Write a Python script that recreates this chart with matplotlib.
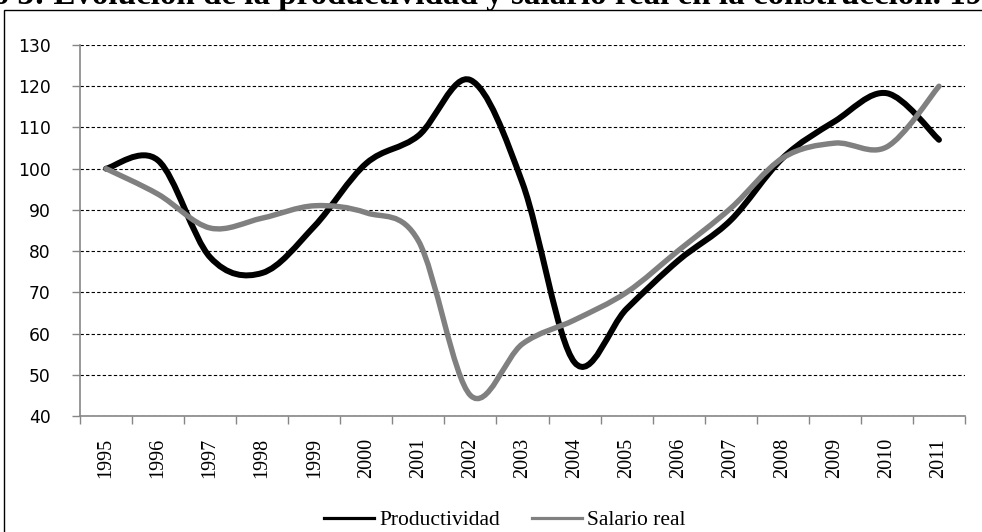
import numpy as np
import matplotlib
matplotlib.use('Agg')
import matplotlib.pyplot as plt
from matplotlib.path import Path
from matplotlib.patches import PathPatch, Rectangle
from matplotlib.lines import Line2D

years = ['1995', '1996', '1997', '1998', '1999', '2000', '2001', '2002', '2003',
         '2004', '2005', '2006', '2007', '2008', '2009', '2010', '2011']
productividad = [100, 102, 78.5, 74.7, 86, 101.3, 108, 121.5, 96.5,
                 53, 66, 77.8, 87.5, 102.6, 111.5, 118.3, 107]
salario_real = [100, 93.8, 85.6, 88, 91, 89.3, 82.5, 45, 57.5,
                63.3, 70, 80.2, 90.4, 102.6, 106.2, 105.3, 120]
title = 'Gráfico 3: Evolución de la productividad y salario real en la construcción. 1995-2011'

W, H = 982, 532


def smooth_path(vals):
    # excel-like smoothed line: catmull-rom as cubic bezier
    x = np.arange(len(vals), dtype=float)
    y = np.asarray(vals, dtype=float)
    n = len(y)
    verts = [(x[0], y[0])]
    codes = [Path.MOVETO]
    for i in range(n - 1):
        i0 = max(i - 1, 0)
        i3 = min(i + 2, n - 1)
        c1 = (x[i] + (x[i + 1] - x[i0]) / 6, y[i] + (y[i + 1] - y[i0]) / 6)
        c2 = (x[i + 1] - (x[i3] - x[i]) / 6, y[i + 1] - (y[i3] - y[i]) / 6)
        verts += [c1, c2, (x[i + 1], y[i + 1])]
        codes += [Path.CURVE4] * 3
    return Path(verts, codes)


fig = plt.figure(figsize=(W / 100, H / 100), dpi=100)
fig.patch.set_facecolor('white')

# outer chart frame (runs off the right and bottom edges)
fig.patches.append(Rectangle((4 / W, -0.1), 1.2, 1 - 10 / H + 0.1, transform=fig.transFigure,
                             fill=False, edgecolor='black', lw=1.0))

ax = fig.add_axes([80 / W, 1 - 416 / H, (965 - 80) / W, (416 - 45) / H])
ax.set_xlim(-0.5, len(years) - 0.5)
ax.set_ylim(40, 130)

axis_grey = '#868686'
for s in ['top', 'right']:
    ax.spines[s].set_visible(False)
for s in ['left', 'bottom']:
    ax.spines[s].set_color(axis_grey)
    ax.spines[s].set_linewidth(1.2)

ax.set_yticks(np.arange(40, 131, 10))
ax.tick_params(axis='y', direction='out', length=6, color=axis_grey, width=1.0,
               pad=15, labelsize=12.3)
ax.yaxis.grid(True, color='black', linestyle=(0, (3, 2)), linewidth=0.8)
ax.set_axisbelow(True)

ax.set_xticks(np.arange(len(years)))
ax.set_xticklabels(years, rotation=90, fontfamily='Liberation Serif', fontsize=14.5)
ax.set_xticks(np.arange(-0.5, len(years), 1), minor=True)
ax.tick_params(axis='x', which='major', length=0, pad=16)
ax.tick_params(axis='x', which='minor', direction='out', length=6, color=axis_grey, width=1.0)

ax.add_patch(PathPatch(smooth_path(productividad), fill=False, edgecolor='black',
                       lw=4.3, capstyle='round', joinstyle='round', zorder=3))
ax.add_patch(PathPatch(smooth_path(salario_real), fill=False, edgecolor='#808080',
                       lw=3.9, capstyle='round', joinstyle='round', zorder=4))

handles = [Line2D([], [], color='black', lw=2.3), Line2D([], [], color='#808080', lw=2.3)]
fig.legend(handles, ['Productividad', 'Salario real'], loc='center',
           bbox_to_anchor=(505 / W, 1 - 520 / H), ncol=2, frameon=False,
           prop={'family': 'Liberation Serif', 'size': 15.5}, handlelength=2.3,
           handletextpad=0.25, columnspacing=1.5, borderpad=0)

# title, mostly cut off by the top edge of the image:
# "Evolución ... 199" runs from x=35 to x=980 in the reference
tfont = dict(family='Liberation Serif', weight='bold')
r = fig.canvas.get_renderer()


def text_w(s, size):
    t = fig.text(0, 0, s, size=size, **tfont)
    w = t.get_window_extent(r).width
    t.remove()
    return w


span = text_w('Evolución de la productividad y salario real en la construcción. 199', 20)
tsize = 20 * 945 / span
prefix = text_w('Gráfico 3: E', tsize) - text_w('E', tsize)
fig.text((53 - prefix) / W, 1 - 4 / H, title, ha='left', va='baseline', size=tsize, **tfont)

fig.savefig('out.png', dpi=100)
